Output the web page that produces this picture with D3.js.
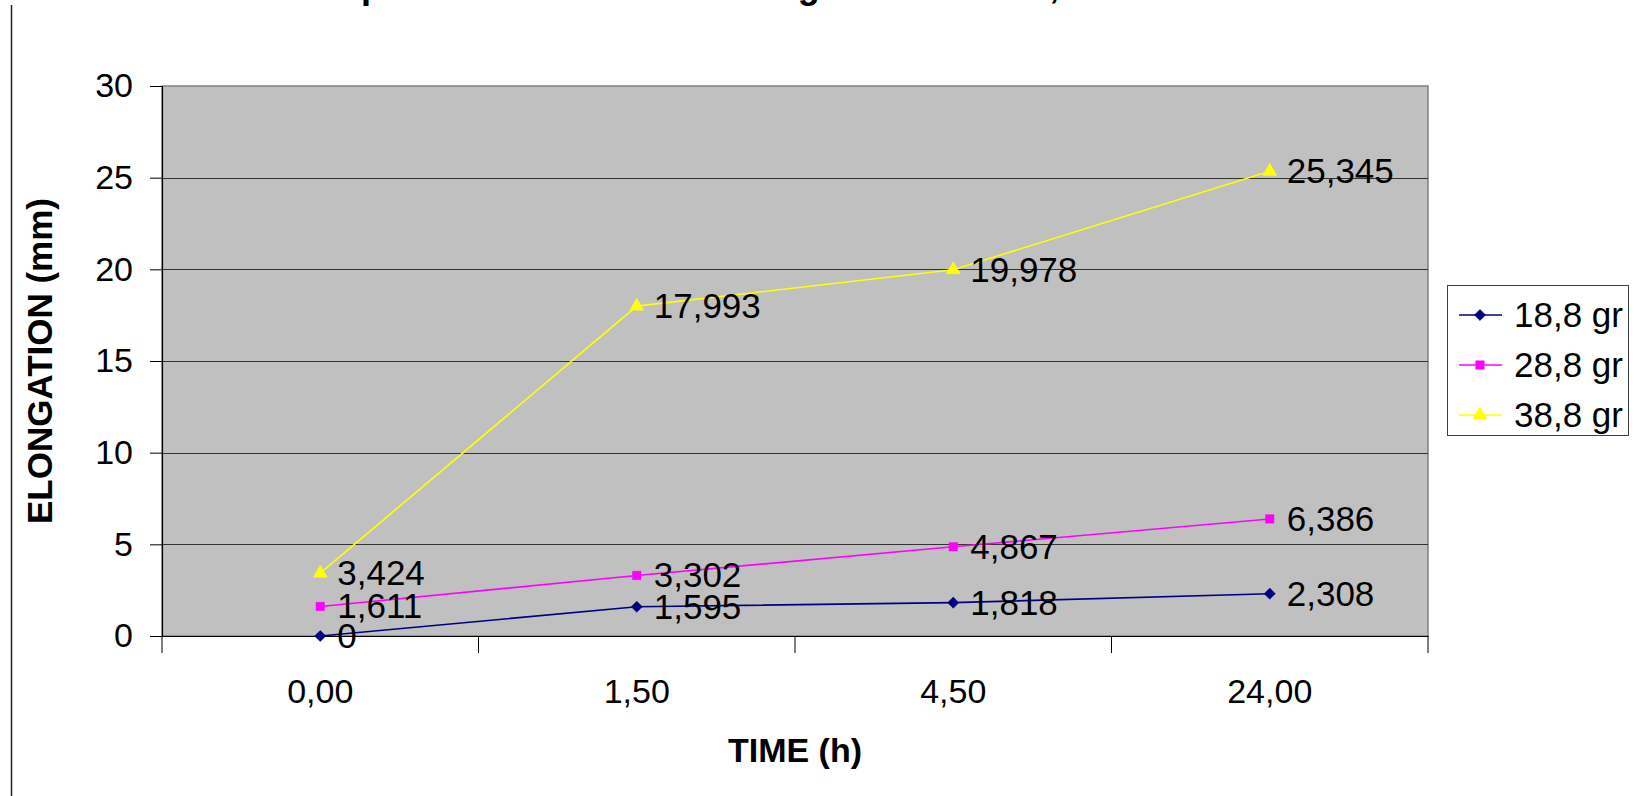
<!DOCTYPE html>
<html>
<head>
<meta charset="utf-8">
<script src="https://cdn.jsdelivr.net/npm/d3@7/dist/d3.min.js"></script>
<style>
  html, body { margin: 0; padding: 0; background: #fff; }
  svg { display: block; font-family: "Liberation Sans", Arial, sans-serif; }
</style>
</head>
<body>
<svg id="chart" width="1634" height="796"></svg>
<script>
// ---- data ----
const categories = ["0,00", "1,50", "4,50", "24,00"];
const seriesNames = ["18,8 gr", "28,8 gr", "38,8 gr"];
const load188 = [0, 1.595, 1.818, 2.308];
const load288 = [1.611, 3.302, 4.867, 6.386];
const load388 = [3.424, 17.993, 19.978, 25.345];
const labels188 = ["0", "1,595", "1,818", "2,308"];
const labels288 = ["1,611", "3,302", "4,867", "6,386"];
const labels388 = ["3,424", "17,993", "19,978", "25,345"];
const yTicks = [0, 5, 10, 15, 20, 25, 30];
const titleText = "Creep Test Results: Total Elongation vs Time, All Loads";
const xTitle = "TIME (h)";
const yTitle = "ELONGATION (mm)";

const diamondSym = d3.symbolDiamond2 || d3.symbolDiamond;
const series = [
  { name: seriesNames[0], values: load188, labels: labels188, color: "#000080", symbol: diamondSym, size: 80 },
  { name: seriesNames[1], values: load288, labels: labels288, color: "#FF00FF", symbol: d3.symbolSquare, size: 72 },
  { name: seriesNames[2], values: load388, labels: labels388, color: "#FFFF00", symbol: d3.symbolTriangle, size: 85 }
];

// ---- layout ----
const svg = d3.select("#chart");
const plot = { left: 162, right: 1428, top: 86, bottom: 636 };
const FONT = 34;
const LABEL_FONT = 35;

const x = d3.scaleBand().domain(categories).range([plot.left, plot.right]).padding(0);
const y = d3.scaleLinear().domain([0, 30]).range([plot.bottom, plot.top]);

// outer left frame line
svg.append("line").attr("x1", 11.5).attr("x2", 11.5).attr("y1", 5).attr("y2", 796)
  .attr("stroke", "#222").attr("stroke-width", 1.5);

// title (clipped at the top like the reference)
svg.append("text").attr("x", 281).attr("y", -2)
  .attr("font-size", 36).attr("font-weight", "bold").attr("fill", "#000")
  .text(titleText);

// plot area
svg.append("rect")
  .attr("x", plot.left).attr("y", plot.top)
  .attr("width", plot.right - plot.left).attr("height", plot.bottom - plot.top)
  .attr("fill", "#C0C0C0").attr("stroke", "#808080").attr("stroke-width", 1.5);

// gridlines
svg.append("g").selectAll("line").data(yTicks.filter(t => t > 0 && t < 30)).join("line")
  .attr("x1", plot.left).attr("x2", plot.right)
  .attr("y1", d => Math.round(y(d)) + 0.5).attr("y2", d => Math.round(y(d)) + 0.5)
  .attr("stroke", "#333").attr("stroke-width", 1);

// y axis
const yAxis = d3.axisLeft(y).tickValues(yTicks).tickSize(12).tickPadding(17)
  .tickFormat(d => String(d));
const gy = svg.append("g").attr("transform", `translate(${plot.left},0)`).call(yAxis);
gy.select(".domain").attr("stroke", "#000").attr("stroke-width", 1.2);
gy.selectAll(".tick line").attr("stroke", "#000");
gy.selectAll(".tick text").attr("font-size", FONT).attr("fill", "#000")
  .attr("font-family", "'Liberation Sans', Arial, sans-serif");

// x axis (ticks between categories)
const xAxis = d3.axisBottom(x).tickSize(0).tickPadding(0);
const gx = svg.append("g").attr("transform", `translate(0,${plot.bottom})`).call(xAxis);
gx.select(".domain").attr("stroke", "#000").attr("stroke-width", 1.2);
gx.selectAll(".tick text").attr("font-size", FONT).attr("fill", "#000")
  .attr("font-family", "'Liberation Sans', Arial, sans-serif")
  .attr("dy", null).attr("y", 67);
const boundaries = categories.map(c => x(c)).concat([x(categories[categories.length - 1]) + x.bandwidth()]);
gx.append("g").selectAll("line").data(boundaries).join("line")
  .attr("x1", d => d).attr("x2", d => d).attr("y1", 0).attr("y2", 17)
  .attr("stroke", "#000").attr("stroke-width", 1);

// axis titles
svg.append("text").attr("x", 795).attr("y", 762)
  .attr("text-anchor", "middle").attr("font-size", 34).attr("font-weight", "bold")
  .text(xTitle);
svg.append("text")
  .attr("transform", `translate(52,${(plot.top + plot.bottom) / 2}) rotate(-90)`)
  .attr("text-anchor", "middle").attr("font-size", 35).attr("font-weight", "bold")
  .text(yTitle);

// series lines, markers, labels
const cx = c => x(c) + x.bandwidth() / 2;
const line = d3.line().x((d, i) => cx(categories[i])).y(d => y(d));

series.forEach(s => {
  const g = svg.append("g");
  g.append("path").datum(s.values).attr("d", line)
    .attr("fill", "none").attr("stroke", s.color).attr("stroke-width", 1.6);
  g.selectAll("path.m").data(s.values).join("path").attr("class", "m")
    .attr("d", d3.symbol().type(s.symbol).size(s.size))
    .attr("transform", (d, i) => `translate(${cx(categories[i])},${y(d)})`)
    .attr("fill", s.color).attr("stroke", s.color).attr("stroke-width", 0.5);
});
series.forEach(s => {
  svg.append("g").selectAll("text").data(s.values).join("text")
    .attr("x", (d, i) => cx(categories[i]) + 17)
    .attr("y", d => y(d) + 12)
    .attr("font-size", LABEL_FONT).attr("fill", "#000")
    .text((d, i) => s.labels[i]);
});

// legend
const lg = svg.append("g");
lg.append("rect").attr("x", 1447.5).attr("y", 285.5).attr("width", 181).attr("height", 150)
  .attr("fill", "#fff").attr("stroke", "#404040").attr("stroke-width", 1);
series.forEach((s, i) => {
  const cy = 315 + i * 50;
  lg.append("line").attr("x1", 1459).attr("x2", 1502).attr("y1", cy).attr("y2", cy)
    .attr("stroke", s.color).attr("stroke-width", 1.6);
  lg.append("path").attr("d", d3.symbol().type(s.symbol).size(s.size))
    .attr("transform", `translate(1480,${cy})`).attr("fill", s.color).attr("stroke", s.color).attr("stroke-width", 0.5);
  lg.append("text").attr("x", 1514).attr("y", cy + 12).attr("font-size", LABEL_FONT).attr("fill", "#000").text(s.name);
});
</script>
</body>
</html>
